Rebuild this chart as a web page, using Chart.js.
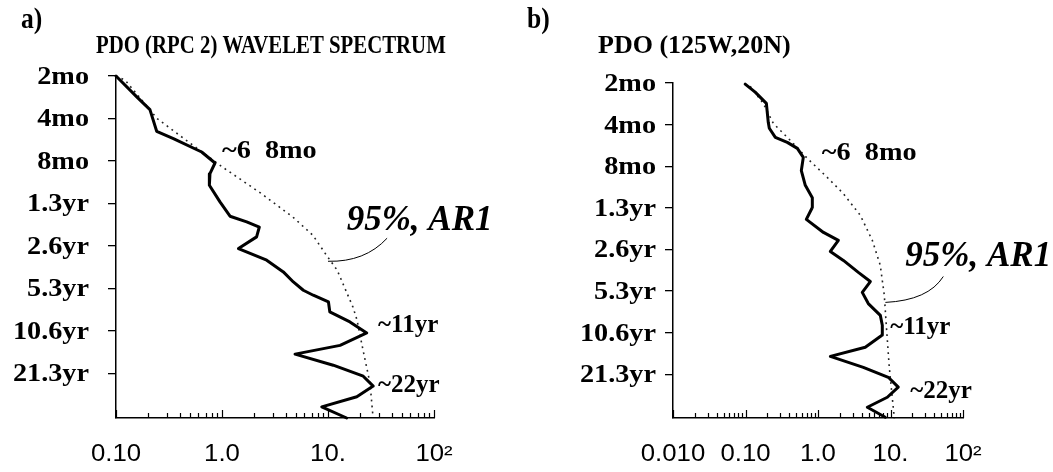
<!DOCTYPE html>
<html>
<head>
<meta charset="utf-8">
<script src="https://cdn.jsdelivr.net/npm/chart.js@4/dist/chart.umd.min.js"></script>
<style>
  html, body { margin: 0; padding: 0; background: #fff; }
  #wrap { position: relative; width: 1053px; height: 472px; overflow: hidden; background: #fff; }
  .panel { position: absolute; top: 0; height: 472px; }
  #pa { left: 0; width: 526px; }
  #pb { left: 526px; width: 527px; }
</style>
</head>
<body>
<div id="wrap">
  <div class="panel" id="pa"><canvas id="ca" width="526" height="472"></canvas></div>
  <div class="panel" id="pb"><canvas id="cb" width="527" height="472"></canvas></div>
</div>
<script>
// Period axis (months, increasing downward)
const periodTicks  = [2, 4, 8, 16, 32, 64, 128, 256];
const periodLabels = ['2mo', '4mo', '8mo', '1.3yr', '2.6yr', '5.3yr', '10.6yr', '21.3yr'];
const periodMax = 530;

// Power axis ticks
const powerTicksA  = [0.1, 1, 10, 100];
const powerLabelsA = ['0.10', '1.0', '10.', '10²'];
const powerTicksB  = [0.01, 0.1, 1, 10, 100];
const powerLabelsB = ['0.010', '0.10', '1.0', '10.', '10²'];

// a) PDO (RPC 2) global wavelet spectrum
const periodA = [2.0, 2.81, 3.46, 4.93, 5.55, 6.91, 8.27, 9.85, 11.9, 15.6, 19.7, 21.6, 23.5, 27.6, 33.4, 40.4,
                 48.9, 57.6, 65.9, 71.5, 79.8, 93.9, 110.6, 132.4, 162, 187, 224, 268, 315, 375, 442, 530];
const powerA  = [0.10, 0.157, 0.209, 0.242, 0.348, 0.643, 0.859, 0.77, 0.76, 0.957, 1.19, 1.71, 2.25, 2.12, 1.43, 2.64,
                 3.79, 4.71, 5.85, 7.26, 10.1, 10.4, 16.1, 23.2, 13.0, 4.89, 11.2, 21.5, 26.7, 18.7, 8.73, 15.0];
// a) 95% significance against AR1 red noise
const sigPeriodA = [2.0, 2.14, 4.0, 5.98, 8.88, 13.4, 20.0, 26.9, 36.0, 47.5, 69.1, 86.8, 107.6, 175, 300, 523];
const sigPowerA  = [0.10, 0.122, 0.244, 0.499, 1.02, 2.28, 4.67, 7.21, 9.37, 12.2, 15.1, 17.2, 18.8, 21.4, 24.9, 26.6];

// b) PDO at 125W, 20N
const periodB = [2.04, 2.33, 2.81, 3.85, 4.25, 4.95, 5.38, 5.94, 6.9, 8.6, 11.0, 13.5, 15.9, 19.4, 24.1, 27.5, 33.1,
                 38.4, 46.9, 54.6, 65.4, 78.8, 95.9, 113, 133, 163, 190, 228, 269, 317, 375, 443, 523];
const powerB  = [0.099, 0.136, 0.194, 0.206, 0.213, 0.258, 0.377, 0.519, 0.627, 0.589, 0.668, 0.835, 0.835, 0.69, 1.19, 1.91, 1.48,
                 2.24, 3.60, 5.27, 4.08, 4.94, 7.24, 7.71, 7.71, 4.49, 1.48, 4.22, 9.33, 12.8, 9.04, 4.79, 8.47];
const sigPeriodB = [2.11, 2.81, 3.92, 5.20, 7.01, 9.63, 12.6, 18.1, 27.5, 41.7, 68.6, 113, 228, 534];
const sigPowerB  = [0.116, 0.176, 0.242, 0.415, 0.711, 1.34, 2.23, 3.83, 5.61, 7.23, 8.21, 8.75, 9.62, 11.3];

const SERIF = '"Liberation Serif", "Times New Roman", Times, serif';
const SANS  = '"Liberation Sans", Arial, Helvetica, sans-serif';

function pts(xs, ys) { return ys.map((y, i) => ({ x: xs[i], y })); }

// fillText with a horizontal scale factor
function wideText(ctx, text, x, y, sx, align) {
  ctx.save();
  ctx.translate(x, y);
  ctx.scale(sx, 1);
  ctx.textAlign = align;
  ctx.textBaseline = 'alphabetic';
  ctx.fillText(text, 0, 0);
  ctx.restore();
}

// Axis labels, inward power ticks, panel headings and annotations
function panelText(p) {
  return {
    id: 'panelText',
    afterDraw(chart) {
      const ctx = chart.ctx, xs = chart.scales.x, ys = chart.scales.y, area = chart.chartArea;
      ctx.save();
      ctx.fillStyle = '#000';
      ctx.strokeStyle = '#000';

      // minor/major ticks pointing up from the power axis
      ctx.lineWidth = 1.2;
      const lo = Math.round(Math.log10(xs.min)), hi = Math.round(Math.log10(xs.max));
      for (let k = lo; k <= hi; k++) {
        for (let m = 1; m <= 9; m++) {
          const v = m * Math.pow(10, k);
          if (v > xs.max * 1.0001) break;
          const px = Math.round(xs.getPixelForValue(v)) + 0.5;
          ctx.beginPath();
          ctx.moveTo(px, area.bottom);
          ctx.lineTo(px, area.bottom - (m === 1 ? 8 : 5));
          ctx.stroke();
        }
      }

      // power tick labels
      ctx.font = '23px ' + SANS;
      p.xTicks.forEach((v, i) => wideText(ctx, p.xLabels[i], xs.getPixelForValue(v), area.bottom + 43, 1.12, 'center'));

      // period tick labels
      ctx.font = 'bold 25px ' + SERIF;
      periodTicks.forEach((v, i) => wideText(ctx, periodLabels[i], area.left - p.yGap, ys.getPixelForValue(v) + 8, 1.13, 'right'));

      // annotations anchored at (power, period) baselines
      p.notes.forEach(n => {
        ctx.font = n.font;
        wideText(ctx, n.text, xs.getPixelForValue(n.x), ys.getPixelForValue(n.y), n.sx, 'left');
      });

      // leader from the significance label to the dashed curve
      const c = p.callout;
      ctx.lineWidth = 1;
      ctx.beginPath();
      ctx.moveTo(xs.getPixelForValue(c[0][0]), ys.getPixelForValue(c[0][1]));
      ctx.quadraticCurveTo(xs.getPixelForValue(c[1][0]), ys.getPixelForValue(c[1][1]),
                           xs.getPixelForValue(c[2][0]), ys.getPixelForValue(c[2][1]));
      ctx.stroke();

      // panel letter and heading
      ctx.font = 'bold 29px ' + SERIF;
      wideText(ctx, p.letter, p.letterX, 28, 0.88, 'left');
      ctx.font = 'bold 26px ' + SERIF;
      wideText(ctx, p.title, p.titleX, 53, p.titleSx, 'left');
      ctx.restore();
    }
  };
}

function makePanel(id, p) {
  return new Chart(document.getElementById(id), {
    type: 'scatter',
    data: {
      datasets: [
        { data: pts(p.sigPower, p.sigPeriod), showLine: true, borderColor: '#222', borderWidth: 1.6,
          borderDash: [1.8, 4.2], pointRadius: 0, clip: false, order: 2 },
        { data: pts(p.power, p.period), showLine: true, borderColor: '#000', borderWidth: 3,
          borderJoinStyle: 'round', borderCapStyle: 'round', pointRadius: 0, clip: false, order: 1 }
      ]
    },
    options: {
      responsive: false, animation: false, devicePixelRatio: 1,
      layout: { padding: { left: 0, top: p.top, right: p.padRight, bottom: 0 } },
      plugins: { legend: { display: false }, tooltip: { enabled: false } },
      scales: {
        x: {
          type: 'logarithmic', min: p.xMin, max: 100,
          ticks: { display: false }, grid: { display: false },
          border: { display: true, color: '#000', width: 1.5 },
          afterFit(s) { s.height = 472 - p.bottom; }
        },
        y: {
          type: 'logarithmic', reverse: true, min: 2, max: periodMax,
          ticks: { display: false },
          grid: { display: true, drawOnChartArea: false, drawTicks: true, tickLength: 8, color: '#000', lineWidth: 1.3 },
          border: { display: true, color: '#000', width: 1.5 },
          afterBuildTicks(s) { s.ticks = periodTicks.map(v => ({ value: v })); },
          afterFit(s) { s.width = p.left; }
        }
      }
    },
    plugins: [panelText(p)]
  });
}

const noteFont = 'bold 25px ' + SERIF;
const sigFont = 'italic bold 35px ' + SERIF;

makePanel('ca', {
  left: 116, top: 76, bottom: 418, padRight: 526 - 434, xMin: 0.1,
  xTicks: powerTicksA, xLabels: powerLabelsA, yGap: 27,
  period: periodA, power: powerA, sigPeriod: sigPeriodA, sigPower: sigPowerA,
  letter: 'a)', letterX: 21, title: 'PDO (RPC 2) WAVELET SPECTRUM', titleX: 96, titleSx: 0.8,
  notes: [
    { text: '~6  8mo', x: 1.0, y: 7.56, font: noteFont, sx: 1.13 },
    { text: '~11yr', x: 29.7, y: 131, font: noteFont, sx: 1.0 },
    { text: '~22yr', x: 29.7, y: 348, font: noteFont, sx: 1.0 },
    { text: '95%, AR1', x: 15, y: 24.8, font: sigFont, sx: 1.0 }
  ],
  callout: [[36.1, 28.2], [22.3, 41.7], [10, 41.1]]
});

makePanel('cb', {
  left: 673 - 526, top: 83, bottom: 418, padRight: 527 - (963 - 526), xMin: 0.01,
  xTicks: powerTicksB, xLabels: powerLabelsB, yGap: 17,
  period: periodB, power: powerB, sigPeriod: sigPeriodB, sigPower: sigPowerB,
  letter: 'b)', letterX: 1, title: 'PDO (125W,20N)', titleX: 72, titleSx: 1.0,
  notes: [
    { text: '~6  8mo', x: 1.13, y: 7.26, font: noteFont, sx: 1.13 },
    { text: '~11yr', x: 9.9, y: 130, font: noteFont, sx: 1.0 },
    { text: '~22yr', x: 18.7, y: 377, font: noteFont, sx: 1.0 },
    { text: '95%, AR1', x: 16, y: 42.5, font: sigFont, sx: 1.0 }
  ],
  callout: [[53.5, 50.2], [33.2, 74.6], [8.5, 77.3]]
});
</script>
</body>
</html>
